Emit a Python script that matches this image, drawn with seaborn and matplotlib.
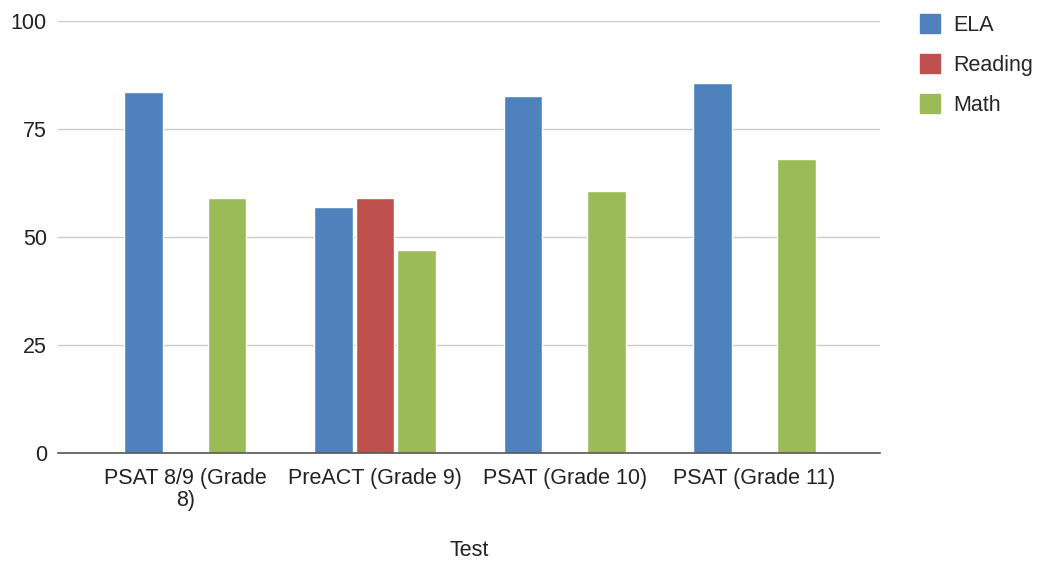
import numpy as np
import pandas as pd
import matplotlib
matplotlib.use("Agg")
import matplotlib.pyplot as plt
import seaborn as sns
from matplotlib.patches import Patch

# chart data
tests = ["PSAT 8/9 (Grade\n8)", "PreACT (Grade 9)", "PSAT (Grade 10)", "PSAT (Grade 11)"]
subjects = ["ELA", "Reading", "Math"]
ela = [83.5, 57, 82.7, 85.7]
reading = [np.nan, 59, np.nan, np.nan]
math_scores = [59, 47, 60.7, 68]
colors = ["#4f81bd", "#c0504d", "#9bbb59"]

rows = []
for i, t in enumerate(tests):
    rows.append({"Test": t, "Subject": "ELA", "Score": ela[i]})
    rows.append({"Test": t, "Subject": "Reading", "Score": reading[i]})
    rows.append({"Test": t, "Subject": "Math", "Score": math_scores[i]})
df = pd.DataFrame(rows)

sns.set_style("white")
plt.rcParams["font.family"] = ["Liberation Sans", "DejaVu Sans"]
FS = 15.5

fig = plt.figure(figsize=(10.4, 5.61), dpi=100)
ax = fig.add_axes([0.0558, 0.1925, 0.7902, 0.7701])

sns.barplot(data=df, x="Test", y="Score", hue="Subject", hue_order=subjects,
            palette=colors, width=0.66, gap=0.07, ax=ax, legend=False,
            saturation=1, errorbar=None)

ax.set_xlim(-0.67, 3.66)
ax.set_ylim(0, 100)
ax.set_yticks([0, 25, 50, 75, 100])
ax.yaxis.grid(True, color="#cccccc", linewidth=1)
ax.set_axisbelow(True)
for s in ["top", "right", "left"]:
    ax.spines[s].set_visible(False)
ax.spines["bottom"].set_color("#555555")
ax.spines["bottom"].set_linewidth(1.2)
ax.tick_params(axis="both", length=0, labelsize=FS, colors="#222222", pad=8)
ax.tick_params(axis="x", pad=11)
for lbl in ax.get_xticklabels():
    lbl.set_linespacing(1.05)
ax.set_ylabel("")
ax.set_xlabel("")
fig.text(469 / 1040, 1 - 550 / 561, "Test", fontsize=FS, color="#222222",
         ha="center", va="center")

handles = [Patch(facecolor=c, edgecolor=c, label=s) for s, c in zip(subjects, colors)]
fig.legend(handles=handles, loc="upper left", bbox_to_anchor=(0.876, 0.99),
           frameon=False, fontsize=FS, handlelength=0.95, handleheight=0.95,
           labelspacing=0.85, handletextpad=0.6, borderaxespad=0)

fig.savefig("out.png", dpi=100)
